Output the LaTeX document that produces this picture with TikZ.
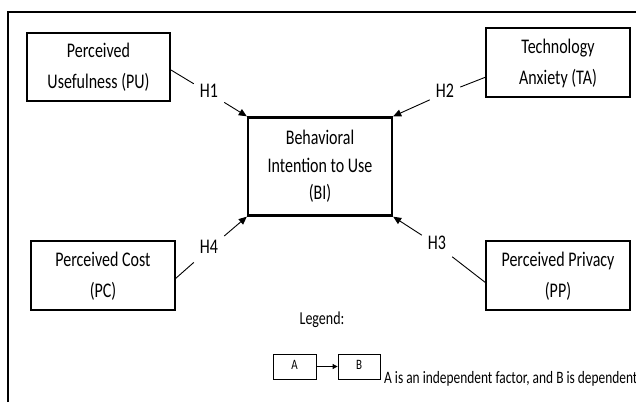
\documentclass[tikz,border=0pt]{standalone}
\usepackage{graphicx}
\usepackage{fontspec}
\setmainfont{Carlito}
\usetikzlibrary{arrows.meta}
\newcommand\vt[3]{\scalebox{1}[1.3]{\fontsize{#1}{#2}\selectfont\begin{tabular}{@{}c@{}}#3\end{tabular}}}
\begin{document}
\begin{tikzpicture}[x=1pt,y=-1pt,
  box/.style={draw,line width=2.4pt,align=center,inner sep=0pt},
  conn/.style={line width=0.9pt},
  tip/.style={-{Triangle[length=8pt,width=7pt]}},
  hlab/.style={inner sep=6pt},
  lbox/.style={draw,line width=0.8pt,minimum width=43pt,minimum height=25pt,inner sep=0pt}]
\useasboundingbox (0,0) rectangle (636,402);
\fill[white] (0,0) rectangle (636,402);
\draw[line width=2pt] (8,402) -- (8,12) -- (636,12);
\node[box,minimum width=143pt,minimum height=68pt] (PU) at (98.5,67) {\vt{16}{24}{Perceived\\Usefulness (PU)}};
\node[box,minimum width=144pt,minimum height=69pt] (TA) at (558,62.5) {\vt{16}{24}{Technology\\Anxiety (TA)}};
\node[box,minimum width=144pt,minimum height=98pt] (BI) at (320,166.5) {\vt{16}{21.2}{Behavioral\\Intention to Use\\(BI)}};
\node[box,minimum width=144pt,minimum height=69pt] (PC) at (103,275.5) {\vt{16}{24}{Perceived Cost\\(PC)}};
\node[box,minimum width=144pt,minimum height=69pt] (PP) at (558,275.5) {\vt{16}{24}{Perceived Privacy\\(PP)}};
\coordinate (pu1) at (171,70);
\coordinate (ta1) at (486,77);
\coordinate (pc1) at (175,279);
\coordinate (pp1) at (486,283);
\node[hlab] (H1) at (209,93) {\vt{16}{19}{H1}};
\node[hlab] (H2) at (445,93) {\vt{16}{19}{H2}};
\node[hlab] (H3) at (437,245) {\vt{16}{19}{H3}};
\node[hlab] (H4) at (209,249) {\vt{16}{19}{H4}};
\draw[conn] (pu1) -- (H1);
\draw[conn,tip] (H1) -- (BI.north west);
\draw[conn] (ta1) -- (H2);
\draw[conn,tip] (H2) -- (BI.north east);
\draw[conn] (pc1) -- (H4);
\draw[conn,tip] (H4) -- (BI.south west);
\draw[conn] (pp1) -- (H3);
\draw[conn,tip] (H3) -- (BI.south east);
\node (leg) at (322,320) {\vt{14}{17}{Legend:}};
\node[lbox] (A) at (294.5,366.5) {\vt{11}{13}{A}};
\node[lbox,minimum width=42pt] (B) at (359,366.5) {\vt{11}{13}{B}};
\draw[line width=0.8pt,-{Triangle[length=5pt,width=5pt]}] (A) -- (B);
\node[anchor=base west,inner sep=0pt] (note) at (384,383) {\scalebox{1}[1.3]{\fontsize{13.4}{16}\selectfont A is an independent factor, and B is dependent}};
\end{tikzpicture}
\end{document}
